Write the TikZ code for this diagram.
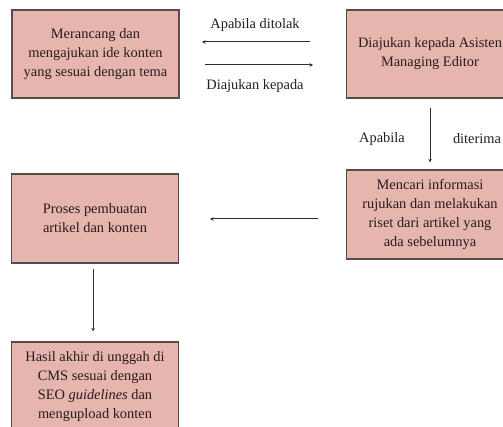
\documentclass[tikz,border=0pt]{standalone}
\usepackage{fontspec}
\setmainfont{Liberation Serif}
\usetikzlibrary{arrows.meta}
\definecolor{boxfill}{RGB}{229,181,174}
\definecolor{boxdraw}{RGB}{88,76,74}
\definecolor{txt}{RGB}{40,28,28}
\definecolor{arr}{RGB}{45,45,45}
\tikzset{
  box/.style={draw=boxdraw, line width=1.2pt, fill=boxfill, minimum width=167pt, minimum height=88pt, align=center, inner sep=2pt, text=txt, font=\fontsize{14.4pt}{19pt}\selectfont},
  lbl/.style={text=txt, font=\fontsize{14.4pt}{19pt}\selectfont, inner sep=0pt},
  conn/.style={draw=arr, line width=1pt, -{Stealth[length=3.5pt,width=3.5pt]}}
}
\begin{document}
\begin{tikzpicture}[x=1pt,y=-1pt]
\useasboundingbox (0,0) rectangle (503,427);
\node[box] (b1) at (95.5,54) {Merancang dan\\mengajukan ide konten\\yang sesuai dengan tema};
\node[box] (b2) at (430,54) {Diajukan kepada Asisten\\Managing Editor};
\node[box, minimum height=89pt] (b3) at (430,214.5) {Mencari informasi\\rujukan dan melakukan\\riset dari artikel yang\\ada sebelumnya};
\node[box, minimum height=89pt] (b4) at (95,218.5) {Proses pembuatan\\artikel dan konten};
\node[box, minimum height=89pt] (b5) at (95,386.5) {Hasil akhir di unggah di\\CMS sesuai dengan\\SEO \textit{guidelines} dan\\mengupload konten};
\coordinate (a1s) at (310,42);
\coordinate (a1e) at (202,42);
\coordinate (a2s) at (205,65);
\coordinate (a2e) at (313,65);
\coordinate (a4s) at (318,219);
\coordinate (a4e) at (210,219);
\draw[conn] (a1s) -- (a1e);
\draw[conn] (a2s) -- (a2e);
\draw[conn, shorten <=9pt, shorten >=7pt] (b2.south) -- (b3.north);
\draw[conn] (a4s) -- (a4e);
\draw[conn, shorten <=5pt, shorten >=10pt] ([xshift=-2pt]b4.south) -- ([xshift=-2pt]b5.north);
\node[lbl] (l1) at (255,25) {Apabila ditolak};
\node[lbl] (l2) at (255,86) {Diajukan kepada};
\node[lbl] (l3) at (382,139) {Apabila};
\node[lbl] (l4) at (477,139) {diterima};
\end{tikzpicture}
\end{document}
